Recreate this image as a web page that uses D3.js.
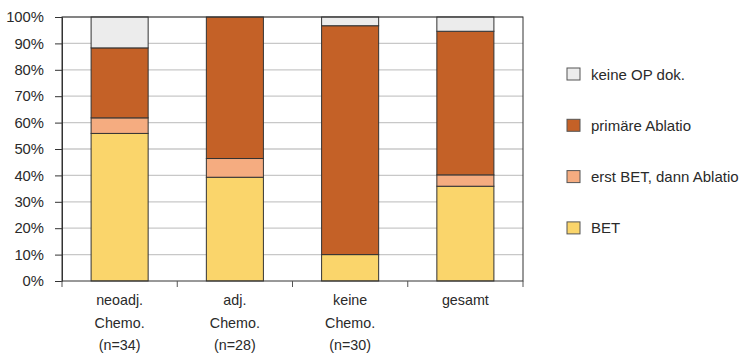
<!DOCTYPE html>
<html>
<head>
<meta charset="utf-8">
<script src="https://cdn.jsdelivr.net/npm/d3@7"></script>
<style>
  html, body { margin: 0; padding: 0; background: #fff; }
  svg { display: block; font-family: "Liberation Sans", Arial, sans-serif; }
</style>
</head>
<body>
<svg id="chart" width="745" height="358"></svg>
<script>
// Operation type by chemotherapy group (share of patients, %)
const categories = [
  ["neoadj.", "Chemo.", "(n=34)"],
  ["adj.", "Chemo.", "(n=28)"],
  ["keine", "Chemo.", "(n=30)"],
  ["gesamt"]
];
const seriesNames = ["BET", "erst BET, dann Ablatio", "primäre Ablatio", "keine OP dok."];
const bet        = [55.9, 39.3, 10.0, 35.9];
const erstBet    = [5.9, 7.1, 0.0, 4.3];
const primaer    = [26.5, 53.6, 86.7, 54.4];
const keineOp    = [11.7, 0.0, 3.3, 5.4];
const seriesColors = ["#fad56b", "#f5ac80", "#c46127", "#ececec"];
const yTicks = [0, 10, 20, 30, 40, 50, 60, 70, 80, 90, 100];

const svg = d3.select("#chart");
const m = { left: 62, top: 17, right: 222, bottom: 77 };
const W = 745 - m.left - m.right;
const H = 358 - m.top - m.bottom;
const g = svg.append("g").attr("transform", `translate(${m.left},${m.top})`);

const idx = d3.range(categories.length);
const x = d3.scaleBand().domain(idx).range([0, W]).paddingInner(0.505).paddingOuter(0.2525);
const y = d3.scaleLinear().domain([0, 100]).range([H, 0]);

// gridlines
g.append("g").selectAll("line").data(yTicks.slice(1)).join("line")
  .attr("x1", 0).attr("x2", W)
  .attr("y1", d => y(d)).attr("y2", d => y(d))
  .attr("stroke", "#c8c8c8").attr("stroke-width", 1.3);

// stacked bars
const rows = idx.map(i => ({ i, s0: bet[i], s1: erstBet[i], s2: primaer[i], s3: keineOp[i] }));
const stack = d3.stack().keys(["s0", "s1", "s2", "s3"]);
const layers = stack(rows);
g.append("g").selectAll("g").data(layers).join("g")
  .attr("fill", (d, k) => seriesColors[k])
  .selectAll("rect").data(d => d.filter(p => p[1] - p[0] > 0)).join("rect")
  .attr("x", d => x(d.data.i))
  .attr("width", x.bandwidth())
  .attr("y", d => y(Math.min(100, d[1])))
  .attr("height", d => y(d[0]) - y(Math.min(100, d[1])))
  .attr("stroke", "#333").attr("stroke-width", 1);

// plot frame
g.append("rect").attr("x", 0).attr("y", 0).attr("width", W).attr("height", H)
  .attr("fill", "none").attr("stroke", "#333").attr("stroke-width", 1);

// y axis
const yAxis = d3.axisLeft(y).tickValues(yTicks).tickFormat(d => d + "%").tickSizeOuter(0).tickSize(7).tickPadding(11);
const ya = g.append("g").call(yAxis);
ya.select(".domain").attr("stroke", "#333");
ya.selectAll(".tick line").attr("stroke", "#333");
ya.selectAll("text").attr("font-size", 14.8).attr("fill", "#2a2a2a")
  .attr("font-family", "Liberation Sans, Arial, sans-serif");

// x axis: ticks at category boundaries
const xb = g.append("g").attr("transform", `translate(0,${H})`);
xb.selectAll("line").data(d3.range(categories.length + 1)).join("line")
  .attr("x1", d => d * W / categories.length).attr("x2", d => d * W / categories.length)
  .attr("y1", 0).attr("y2", 6).attr("stroke", "#555");

const labels = g.append("g").attr("font-size", 14.3).attr("fill", "#2a2a2a").attr("text-anchor", "middle");
idx.forEach(i => {
  const t = labels.append("text")
    .attr("x", x(i) + x.bandwidth() / 2)
    .attr("y", H + 24);
  categories[i].forEach((line, j) => {
    t.append("tspan").attr("x", x(i) + x.bandwidth() / 2).attr("dy", j === 0 ? 0 : 22.5).text(line);
  });
});

// legend (top entry = top of stack)
const legend = svg.append("g").attr("font-size", 15).attr("fill", "#2a2a2a");
const order = [3, 2, 1, 0];
order.forEach((k, r) => {
  const cy = 74 + r * 51.3;
  legend.append("rect").attr("x", 567).attr("y", cy - 6).attr("width", 13).attr("height", 12)
    .attr("fill", seriesColors[k]).attr("stroke", "#555").attr("stroke-width", 1);
  legend.append("text").attr("x", 591).attr("y", cy + 5.5).text(seriesNames[k]);
});
</script>
</body>
</html>
